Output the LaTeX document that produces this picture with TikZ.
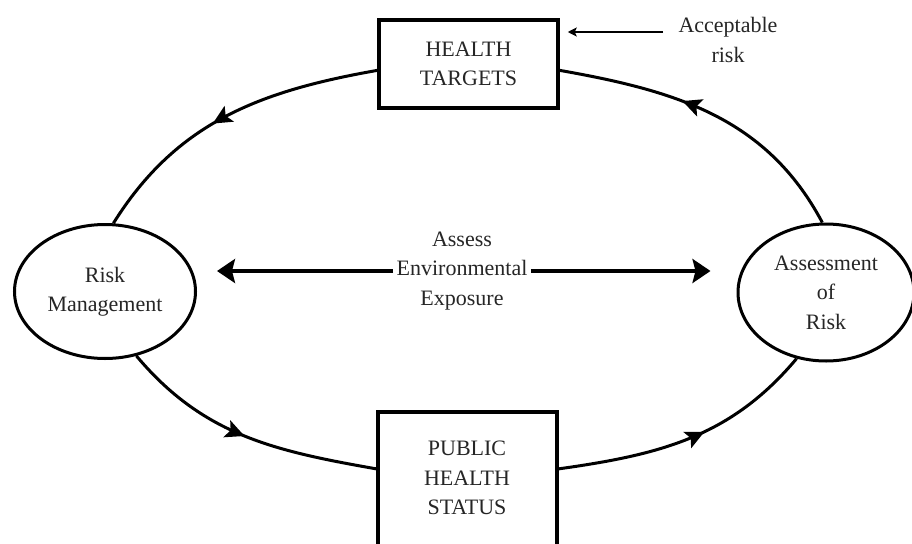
\documentclass[tikz,border=0pt]{standalone}
\usepackage{fontspec}
\setmainfont{Liberation Serif}
\usetikzlibrary{shapes.geometric,arrows.meta,decorations.markings}
\tikzset{
 boxnode/.style={draw, line width=3.5pt, minimum width=179pt, inner sep=0pt},
 ovalnode/.style={draw, ellipse, line width=3pt, inner sep=0pt},
 lbl/.style={align=center, text=black!85, font=\fontsize{22}{29.5}\selectfont},
 cyc/.style={line width=3pt, postaction={decorate}, decoration={markings, mark=at position #1 with {\arrow{Stealth[length=19pt,width=18pt,inset=4pt]}}}},
 cyc/.default=0.5,
 bigarrow/.style={line width=3.5pt, -{Stealth[length=18pt,width=24pt,inset=3pt]}},
 smallarrow/.style={line width=1.5pt, -{Stealth[length=9pt,width=9pt,inset=2pt]}}
}
\begin{document}
\begin{tikzpicture}[x=1pt,y=1pt]
\useasboundingbox[fill=white] (0,0) rectangle (912,-543);
\node[boxnode, minimum height=88pt, lbl] (ht) at (468.5,-64) {HEALTH\\TARGETS};
\node[boxnode, minimum height=170pt, anchor=north] (phs) at (467.5,-410) {};
\node[lbl] (phst) at (467,-478) {PUBLIC\\HEALTH\\STATUS};
\node[ovalnode, lbl, minimum width=181pt, minimum height=134pt] (rm) at (105,-291.5) {Risk\\Management};
\node[ovalnode, lbl, minimum width=176pt, minimum height=137pt] (ar) at (826,-292.5) {Assessment\\of\\Risk};
\node[lbl] (env) at (462,-271) {Assess\\Environmental\\Exposure};
\node[lbl] (acc) at (728,-40) {Acceptable\\risk};
\draw[bigarrow, shorten >=20pt] (env.west) -- (env.west -| rm.east);
\draw[bigarrow, shorten >=26pt] (env.east) -- (env.east -| ar.west);
\coordinate (accs) at (663,-32);
\draw[smallarrow, shorten >=8pt] (accs) -- (accs -| ht.east);
\draw[cyc=0.6] (ar.93) to[out=118, in=-10] (ht.-4);
\draw[cyc=0.55] (ht.184) to[out=190, in=58] (rm.83);
\draw[cyc=0.5] (rm.-64) to[out=-50, in=170] (phs.163);
\draw[cyc=0.56] (phs.17) to[out=8, in=230] (ar.246);
\end{tikzpicture}
\end{document}
